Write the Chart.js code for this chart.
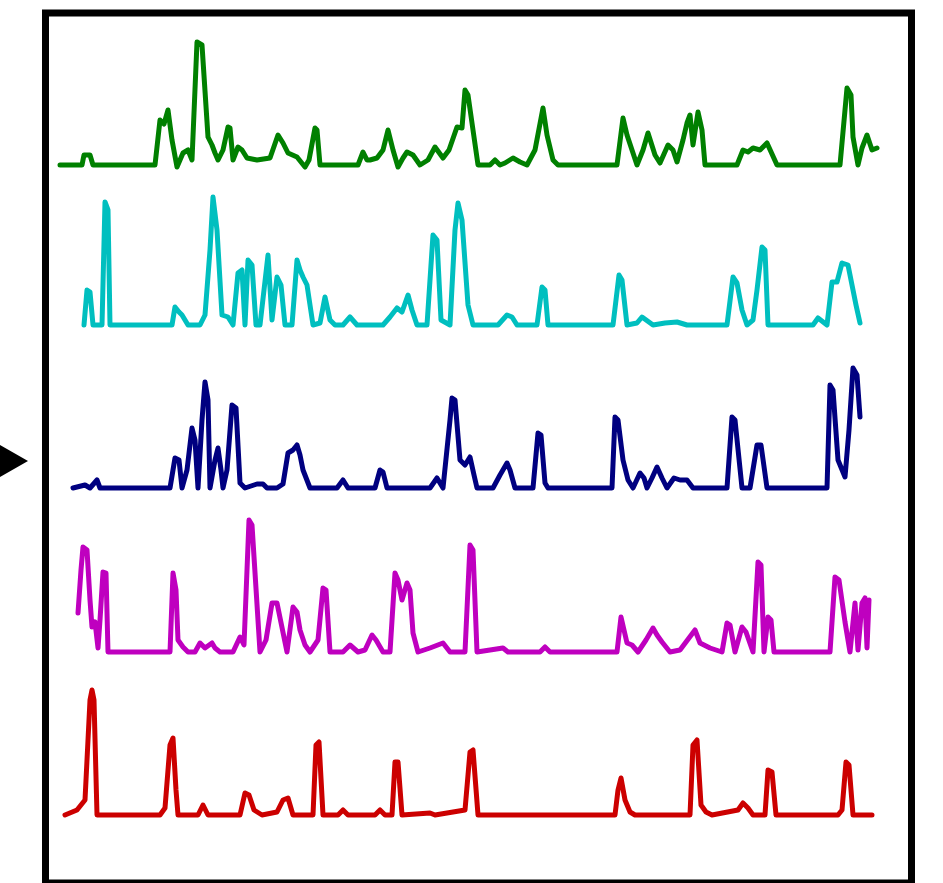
<!DOCTYPE html>
<html>
<head>
<meta charset="utf-8">
<script src="https://cdn.jsdelivr.net/npm/chart.js@4/dist/chart.umd.min.js"></script>
<style>
  html, body { margin: 0; padding: 0; background: #fff; }
  #traces { display: block; }
</style>
</head>
<body>
<canvas id="traces" width="943" height="883"></canvas>
<script>
// five activity traces, top to bottom; t = time, a = amplitude above baseline
const greenT = [20,42,44,50,53,115,120,124,128,132,137,143,148,152,157,162,168,172,175,178,183,188,190,193,198,202,207,217,230,238,243,248,257,265,269,275,277,280,318,323,327,330,337,343,348,353,358,363,367,373,380,388,395,403,409,417,422,425,428,433,438,450,455,460,465,473,480,487,495,503,507,513,518,577,583,587,597,603,608,615,620,628,633,637,643,647,650,653,658,662,665,697,703,708,713,720,727,737,800,807,811,813,818,822,827,832,837];
const greenA = [0,0,10,10,0,0,45,41,55,25,-2,12,15,5,123,120,28,20,12,5,15,38,37,5,18,15,7,5,7,30,22,12,8,-2,5,37,35,0,0,13,5,5,7,15,35,15,-2,7,13,10,0,5,18,7,15,38,37,75,70,35,0,0,5,0,2,7,3,0,15,57,30,5,0,0,47,30,0,15,32,10,2,20,15,3,25,42,50,20,53,35,0,0,15,13,17,15,22,0,0,77,70,28,0,17,30,15,17];

const cyanT = [44,47,50,53,62,65,68,70,132,135,139,142,148,160,165,170,173,177,182,188,193,198,202,205,208,212,216,220,228,232,237,241,245,252,257,260,263,267,273,280,285,290,295,303,310,317,343,350,357,362,368,372,377,387,393,397,401,410,415,418,422,428,433,458,467,472,477,497,502,505,508,573,579,582,587,597,602,613,625,637,647,687,693,697,702,707,713,717,722,725,728,773,778,787,792,797,802,808,813,816,820];
const cyanA = [0,35,33,0,0,123,115,0,0,18,13,10,0,0,10,75,128,95,10,8,0,52,55,0,65,60,0,0,70,5,48,40,0,0,65,55,48,40,0,2,28,5,0,0,8,0,0,8,17,13,30,15,0,0,90,85,5,0,95,122,105,20,0,0,10,8,0,0,38,35,0,0,50,45,0,2,8,0,2,3,0,0,48,42,15,0,5,35,78,75,0,0,7,0,43,43,62,60,35,20,2];

const navyT = [33,45,50,57,60,130,135,139,142,147,152,155,158,162,165,168,170,175,178,181,183,187,192,196,200,205,217,223,227,237,243,248,253,257,260,263,270,297,303,308,335,340,343,347,390,397,403,410,412,415,420,425,430,434,437,453,460,467,470,475,493,498,501,505,508,572,575,578,583,588,593,600,604,607,612,617,622,627,634,640,647,653,687,692,695,702,710,717,721,727,787,790,793,798,805,809,813,817,820];
const navyA = [0,3,0,8,0,0,30,28,0,18,60,48,0,68,106,88,0,28,40,18,0,18,83,80,5,0,4,4,0,0,4,35,38,43,33,18,0,0,8,0,0,18,16,0,0,10,0,68,90,88,28,23,31,13,0,0,13,25,18,0,0,55,53,5,0,0,71,68,28,8,0,15,10,0,10,21,10,0,10,8,8,0,0,71,68,0,0,43,43,0,0,103,98,28,11,58,120,113,71];

const magentaT = [38,41,43,47,50,52,55,58,60,63,66,68,130,133,136,138,143,148,155,160,165,172,175,180,193,200,204,209,212,220,226,232,237,247,253,257,260,265,270,278,283,286,290,303,310,318,325,332,336,343,350,355,358,362,367,370,373,378,390,403,410,425,430,433,437,463,468,500,505,510,577,581,584,587,592,598,606,613,617,622,630,640,655,660,670,682,687,690,695,702,706,713,718,721,724,728,731,734,790,795,799,805,810,815,818,822,825,827,829];
const magentaA = [39,82,105,102,52,25,30,4,32,80,79,0,0,79,62,12,5,0,0,9,4,9,4,0,0,15,7,132,127,0,12,49,49,0,45,40,22,7,0,12,64,62,0,0,7,0,2,17,12,0,0,79,72,52,69,62,19,0,4,9,0,0,107,102,0,4,0,0,5,0,0,35,22,9,7,0,12,24,17,10,0,2,22,9,4,0,29,27,0,25,20,0,90,87,0,35,32,0,0,75,72,30,0,49,2,49,54,4,52];

const redT = [25,37,45,50,52,54,57,120,125,130,133,136,138,158,163,168,200,205,209,214,222,237,243,248,253,273,276,279,283,298,303,308,335,340,345,352,355,358,362,390,395,425,430,433,438,575,578,581,585,590,595,650,653,657,661,666,672,698,703,708,713,725,728,732,736,798,802,806,809,813,832];
const redA = [0,5,15,115,125,115,0,0,7,70,77,25,0,0,10,0,0,22,20,5,0,3,15,17,0,0,70,73,0,0,5,0,0,5,0,0,53,53,0,2,0,5,63,65,0,0,25,37,15,3,0,0,70,75,10,3,0,5,12,7,0,0,45,43,0,0,5,53,50,0,0];

const traceNames = ["green", "cyan", "navy", "magenta", "red"];
const traceColors = ["rgb(0,128,0)", "rgb(0,191,191)", "rgb(0,0,128)", "rgb(191,0,191)", "rgb(204,0,0)"];
const traceTimes = [greenT, cyanT, navyT, magentaT, redT];
const traceAmps = [greenA, cyanA, navyA, magentaA, redA];

// lower bound of each stacked band, in amplitude units
const bandFloor = [-23.8, -36.6, -46.4, -55.2, -65];
const bandSpan = 172.8;

const datasets = traceNames.map((name, i) => ({
  label: name,
  data: traceTimes[i].map((t, j) => ({x: t, y: traceAmps[i][j]})),
  yAxisID: "y_" + name,
  borderColor: traceColors[i],
  borderWidth: 5,
  borderJoinStyle: "round",
  borderCapStyle: "round",
  pointRadius: 0,
  tension: 0,
  fill: false,
  clip: false
}));

const scales = {
  x: {type: "linear", min: 0, max: 880, display: false}
};
// bottom band first: the stacked layout puts the last axis on top
for (let i = traceNames.length - 1; i >= 0; i--) {
  scales["y_" + traceNames[i]] = {
    type: "linear",
    position: "left",
    stack: "bands",
    min: bandFloor[i],
    max: bandFloor[i] + bandSpan,
    display: false
  };
}

const frame = {
  id: "frame",
  afterDraw(chart) {
    const ctx = chart.ctx;
    ctx.save();
    ctx.strokeStyle = "#000";
    ctx.lineWidth = 7;
    ctx.strokeRect(45.5, 13, 866, 870);
    // pointer arrow at the left edge
    ctx.fillStyle = "#000";
    ctx.beginPath();
    ctx.moveTo(0, 445);
    ctx.lineTo(28, 461);
    ctx.lineTo(0, 477);
    ctx.closePath();
    ctx.fill();
    ctx.restore();
  }
};

new Chart(document.getElementById("traces"), {
  type: "line",
  data: {datasets: datasets},
  options: {
    responsive: false,
    animation: false,
    layout: {padding: {left: 40, right: 23, top: 16, bottom: 3}},
    scales: scales,
    plugins: {legend: {display: false}, tooltip: {enabled: false}}
  },
  plugins: [frame]
});
</script>
</body>
</html>
